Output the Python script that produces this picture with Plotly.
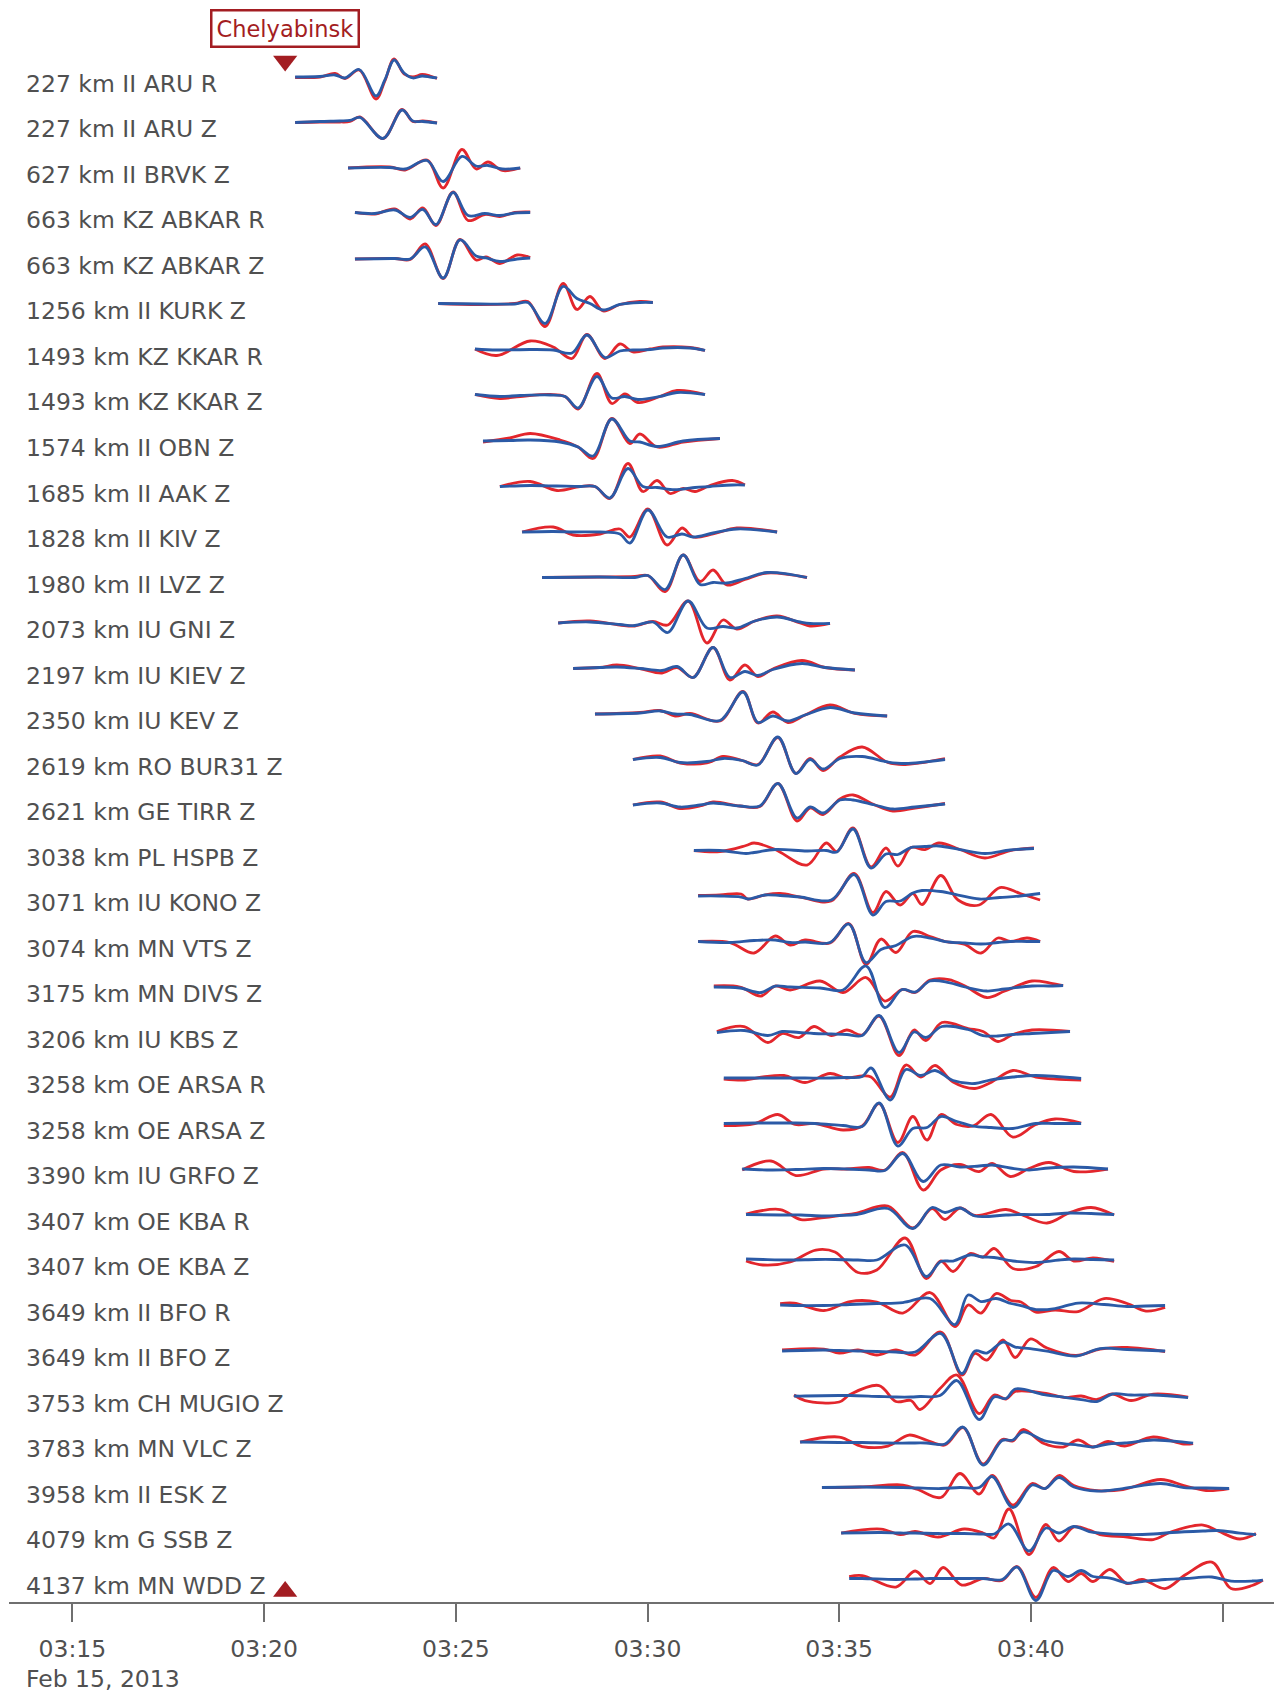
import plotly.graph_objects as go

# ---------------- station metadata (one entry per trace row) ----------------
DIST_KM = [227, 227, 627, 663, 663, 1256, 1493, 1493, 1574, 1685, 1828, 1980,
           2073, 2197, 2350, 2619, 2621, 3038, 3071, 3074, 3175, 3206, 3258,
           3258, 3390, 3407, 3407, 3649, 3649, 3753, 3783, 3958, 4079, 4137]
NETWORK = ["II", "II", "II", "KZ", "KZ", "II", "KZ", "KZ", "II", "II", "II", "II",
           "IU", "IU", "IU", "RO", "GE", "PL", "IU", "MN", "MN", "IU", "OE",
           "OE", "IU", "OE", "OE", "II", "II", "CH", "MN", "II", "G", "MN"]
STATION = ["ARU", "ARU", "BRVK", "ABKAR", "ABKAR", "KURK", "KKAR", "KKAR", "OBN",
           "AAK", "KIV", "LVZ", "GNI", "KIEV", "KEV", "BUR31", "TIRR", "HSPB",
           "KONO", "VTS", "DIVS", "KBS", "ARSA", "ARSA", "GRFO", "KBA", "KBA",
           "BFO", "BFO", "MUGIO", "VLC", "ESK", "SSB", "WDD"]
CHANNEL = ["R", "Z", "Z", "R", "Z", "Z", "R", "Z", "Z", "Z", "Z", "Z", "Z", "Z",
           "Z", "Z", "Z", "Z", "Z", "Z", "Z", "Z", "R", "Z", "Z", "R", "Z", "R",
           "Z", "Z", "Z", "Z", "Z", "Z"]

# event origin time, minutes after 03:00 UTC
EVENT_MIN = 20.55
EVENT_NAME = "Chelyabinsk"
DATE_TEXT = "Feb 15, 2013"

TICK_MIN = [15, 20, 25, 30, 35, 40, 45]
TICK_TEXT = ["03:15", "03:20", "03:25", "03:30", "03:35", "03:40", ""]

# ---------------- waveform knots: time (min after 03:00) ----------------
KNOT_MIN = [
    [20.81, 21.46, 21.85, 22.11, 22.48, 22.92, 23.15, 23.39, 23.65, 23.88, 24.12, 24.33, 24.51],
    [20.81, 21.46, 21.98, 22.24, 22.50, 23.10, 23.60, 23.88, 24.14, 24.51],
    [22.19, 23.28, 23.68, 24.25, 24.67, 25.16, 25.53, 25.84, 26.21, 26.68],
    [22.37, 22.89, 23.41, 23.81, 24.14, 24.48, 24.93, 25.32, 25.76, 26.15, 26.54, 26.94],
    [22.37, 23.41, 23.81, 24.20, 24.67, 25.11, 25.53, 25.79, 26.15, 26.60, 26.94],
    [24.54, 25.63, 26.54, 26.88, 27.33, 27.80, 28.16, 28.50, 28.84, 29.28, 29.80, 30.14],
    [25.50, 26.07, 26.94, 27.54, 28.03, 28.42, 28.89, 29.28, 29.62, 30.07, 30.40, 31.11, 31.50],
    [25.50, 26.15, 26.68, 27.46, 27.85, 28.19, 28.68, 29.07, 29.41, 29.75, 30.33, 30.77, 31.50],
    [25.71, 26.41, 26.94, 27.72, 28.19, 28.58, 29.07, 29.54, 29.80, 30.25, 30.93, 31.89],
    [26.15, 26.94, 27.64, 28.24, 28.63, 29.02, 29.49, 29.88, 30.25, 30.59, 30.93, 31.24, 31.63, 32.21, 32.54],
    [26.73, 27.54, 28.06, 28.76, 29.28, 29.54, 30.01, 30.51, 30.90, 31.19, 31.71, 32.33, 33.38],
    [27.25, 28.76, 29.67, 30.01, 30.46, 30.93, 31.37, 31.71, 32.07, 32.54, 33.12, 34.16],
    [27.67, 28.50, 29.28, 29.67, 30.14, 30.53, 31.06, 31.55, 31.97, 32.33, 32.80, 33.38, 33.98, 34.24, 34.76],
    [28.06, 28.76, 29.20, 29.80, 30.38, 30.77, 31.19, 31.71, 32.15, 32.54, 32.88, 33.27, 34.03, 34.63, 35.41],
    [28.63, 29.80, 30.33, 30.72, 31.11, 31.89, 32.49, 32.88, 33.27, 33.66, 34.11, 34.76, 35.41, 36.25],
    [29.62, 30.33, 30.85, 31.55, 31.97, 32.47, 32.88, 33.40, 33.87, 34.24, 34.58, 35.02, 35.60, 36.27, 36.72, 37.76],
    [29.62, 30.33, 30.85, 31.37, 31.71, 32.41, 32.93, 33.40, 33.90, 34.24, 34.58, 35.02, 35.36, 35.93, 36.40, 36.98, 37.76],
    [31.21, 31.89, 32.57, 32.78, 33.33, 34.16, 34.66, 34.94, 35.36, 35.83, 36.22, 36.53, 36.87, 37.24, 37.60, 38.15, 38.80, 39.46, 40.08],
    [31.32, 31.89, 32.44, 32.62, 33.06, 33.46, 33.98, 34.79, 35.39, 35.88, 36.22, 36.59, 36.92, 37.16, 37.65, 38.10, 38.65, 39.19, 39.72, 40.24],
    [31.32, 32.15, 32.78, 33.33, 33.72, 34.11, 34.76, 35.25, 35.70, 36.09, 36.48, 36.92, 37.37, 37.76, 38.28, 38.70, 39.14, 39.46, 39.90, 40.24],
    [31.73, 32.41, 32.96, 33.33, 33.72, 34.50, 35.10, 35.70, 36.19, 36.64, 36.98, 37.37, 37.86, 38.28, 38.85, 39.32, 40.03, 40.50, 40.84],
    [31.81, 32.52, 33.14, 33.51, 33.95, 34.34, 34.79, 35.20, 35.60, 36.04, 36.56, 36.95, 37.26, 37.68, 38.36, 38.75, 39.14, 39.53, 40.03, 41.02],
    [31.99, 32.54, 33.01, 33.56, 34.11, 34.76, 35.18, 35.60, 35.83, 36.33, 36.74, 37.13, 37.50, 37.97, 38.54, 38.93, 39.53, 40.13, 41.31],
    [31.99, 32.80, 33.40, 33.85, 34.37, 35.10, 35.60, 36.04, 36.53, 36.92, 37.29, 37.65, 38.07, 38.49, 38.96, 39.53, 40.13, 40.63, 41.31],
    [32.47, 33.22, 33.87, 34.60, 35.20, 35.78, 36.19, 36.66, 37.19, 37.65, 38.15, 38.65, 38.99, 39.46, 39.95, 40.47, 41.12, 42.01],
    [32.57, 33.46, 34.00, 34.60, 35.00, 35.46, 36.27, 36.92, 37.42, 37.76, 38.15, 38.54, 39.35, 39.74, 40.42, 41.02, 41.57, 42.17],
    [32.57, 33.01, 33.72, 34.39, 34.89, 35.49, 35.98, 36.72, 37.27, 37.65, 37.97, 38.41, 38.75, 39.04, 39.53, 40.13, 40.73, 41.12, 41.62, 42.17],
    [33.46, 33.82, 34.60, 35.28, 35.98, 36.66, 37.37, 38.02, 38.36, 38.70, 39.09, 39.48, 39.74, 40.13, 40.63, 41.23, 41.91, 42.51, 43.00, 43.50],
    [33.51, 34.60, 35.00, 35.49, 35.98, 36.48, 36.98, 37.65, 38.20, 38.54, 38.85, 39.27, 39.59, 39.98, 40.42, 41.18, 41.80, 42.51, 43.50],
    [33.82, 34.11, 35.00, 35.28, 36.04, 36.48, 36.87, 37.11, 37.63, 38.07, 38.65, 39.04, 39.35, 39.59, 40.34, 40.92, 41.31, 41.72, 42.12, 42.61, 43.19, 44.10],
    [33.98, 35.00, 35.60, 36.27, 36.82, 37.27, 37.76, 38.23, 38.75, 39.25, 39.53, 39.79, 40.34, 40.84, 41.23, 41.62, 42.01, 42.45, 43.19, 43.99, 44.23],
    [34.55, 35.54, 36.66, 37.05, 37.65, 38.15, 38.65, 38.99, 39.53, 40.03, 40.37, 40.73, 41.12, 41.72, 42.40, 43.39, 43.99, 44.57, 45.17],
    [35.05, 36.09, 36.59, 36.98, 37.58, 38.26, 38.75, 39.04, 39.43, 39.95, 40.39, 40.73, 41.12, 41.52, 41.80, 42.51, 43.19, 43.68, 44.49, 44.88, 45.45, 45.87],
    [35.26, 35.60, 36.48, 36.98, 37.37, 37.71, 38.20, 38.75, 39.25, 39.64, 40.13, 40.58, 40.97, 41.31, 41.62, 42.06, 42.51, 42.90, 43.50, 44.04, 44.72, 45.22, 45.77, 46.05],
]

# synthetic waveform amplitude (relative units), blue
SYN_AMP = [
    [0, 0.5, 2, -1, 7.5, -19, -3, 17, 4, -1, 1, 0, -1],
    [0, 1, 1.5, 2, 5, -16, 12.5, 1.5, 1, -0.5],
    [0, 0.5, -1, 7.5, -13.5, 11.5, 2, 2.5, -1, 0],
    [1, 0, 3.5, -4, 4, -11, 21, -2, 0, -2, 0.5, 1],
    [0, 0.5, 0, 12, -19, 19, 3, 1, -2.5, 0, 1],
    [1, 0.5, 0.5, 2, -19, 18, 6, 1, -5.5, 0, 2, 2],
    [1, 0, 0.5, 0, -3, 15, -7.5, -1, 0, 0.5, 2, 2, -0.5],
    [1, -1, 0, 0.5, -1, -12.5, 19, -2.5, -1, -4, -1, 3, 1],
    [0, 0.5, 1, -1, -6, -15, 22, 0, -1, -5.5, 0, 2.5],
    [0, 1, 0.5, 0, 0, -11.5, 18, 0, -1, -3, -2.5, -1, 0, 1.5, 1.5],
    [0, 0.5, 0, 0, -2, -11, 22, -5, -2, -5, -1, 3, 0],
    [0, 0.5, 0, 2, -12, 22.5, -7, -5, -5.5, -1, 5, 0],
    [0, 1, -1.5, -2.5, 1, -9.5, 22, -5, -3.5, -5, 2, 6, 1, -0.5, -0.5],
    [0, 1, 1.5, 0, -2, 2, -9, 21, -9, -3, -7, -1, 5, 1, -1.5],
    [0, 1, 3, 0, -0.5, -6.5, 22, -8.5, -2, -7, -1, 6.5, 1, -2],
    [0, 2, -3, -2, 1, -1, -5.5, 22.5, -14, 0, -9.5, 1, 3, -2.5, -4, 0],
    [0, 2, -2, 0, 2, -1, -1, 21.5, -13, -2, -8, 5, 5, 0, -4, -2, 1],
    [0, 0, -3, -2, 1, -0.5, 0, -1.5, 21.5, -17.5, -3.5, -4, 3, 4, 4.5, 1, -3, 0.5, 2],
    [0, 0, -1, -3, 1, 0.5, -1, -4, 21.5, -19, -5.5, -5, 3, 5.5, 4.5, 1, -3, -1.5, 0, 2.5],
    [0, -1, 1, 1.5, -1, -0.5, -1, 17.5, -21, -8, -4, 5, 3.5, 0, -1.5, -2.5, -1, 0, 0, 0],
    [0, -1, -5.5, 1, 0, -1, -3, 21, -20.5, -2.5, -5, 6, 4.5, 0, -4, -2, 1, 1, 1.5],
    [0, 2, -3, 1, 0, -1, -1.5, -2, -3, 17, -20, 0.5, -5, 6, 3, -3, -3.5, -2, -1, 1],
    [0, 0, 0, 0, 0, 0, 0.5, 1.5, 10, -22, 8.5, 2.5, 7.5, -2.5, -5.5, -2, 1, 2.5, -0.5],
    [0, 0.5, 0.5, 0.5, 0, -2, -3, 20.5, -22.5, -5, -4, 7, 2, -2.5, -4, -5, 0, 0, 0],
    [0, -1, -0.5, 0.5, 0, -1, -1.5, 15.5, -12.5, 4, 2, 3, 4, 1, -1, 1, 2, 0],
    [0, -0.5, -0.5, -1.5, -1, 0, 6, -14, 7, 2, 6.5, -1.5, -0.5, 0, 0, 1.5, 1, 0],
    [1, 0.5, 0, 0.5, 0.5, 0, 0, 15, -16.5, -1.5, -1, 5, 3, 2.5, -1, -2.5, 0, 1, 0.5, 0],
    [0.5, 0, 0, 1, 2, 3, 7, -19, 10.5, 4, 7, 2, 0, -4, -3, 2.5, 1, -1, -0.5, 0],
    [0, 1, 0.5, 0, -0.5, -1, -1, 17.5, -22.5, 0, -2, 9, 4, 2.5, 0, -5, 2.5, 1.5, 0],
    [0.5, 0.5, 1, 1, 0, -0.5, -0.5, 0, 1, 16, -23, -0.5, -2, 7.5, 2, -1, -3, -5, 2.5, 1.5, 1.5, -1],
    [0, -0.5, -0.5, -1, -1, -1, -2, 15, -23, 1.5, 2, 10, 1.5, -1.5, -3, -5, -2, -1, 2, 0, -1],
    [0, 0.5, 0, -0.5, -1, 0, 0, 11, -20, 2.5, -1, 10, 0.5, -3.5, -1, 4, 0, -0.5, -1],
    [0, 0.5, 0, 0, -0.5, -0.5, -1, -1, 9, -18, 5, 0, 6.5, 1.5, 0, -1.5, -1, 0.5, 2, 2.5, 0, -1.5],
    [0, 0, -1, -0.5, 0, 0, 0, 0, -1, 11.5, -22, 8, 2, 8, 2, 0.5, -4.5, -3, -1, 0, 1.5, -2.5, -2.5, -1.5],
]

# observed waveform amplitude (relative units), red
OBS_AMP = [
    [-0.5, 0, 3.5, -1.5, 7, -22, -4, 18, 3, 0, 2.5, 1, -1.5],
    [0, 0.5, 0.5, 1, 5.5, -16, 13, 1, 1.5, -0.5],
    [0, 1, -2, 8, -20, 18.5, -1, 6, -2.5, 0],
    [1, -0.5, 4.5, -5.5, 5.5, -12, 21.5, -7, -1, -3, 1, 1.5],
    [0, 0.5, -0.5, 15, -19.5, 19.5, -1, 2, -4.5, 4, 1.5],
    [1, 0, 1, 3, -22, 21, -5, 8, -6.5, 0, 3, 2],
    [1, -5.5, 9, 3, -8.5, 15.5, -8.5, 6, -2, 1, 3, 2.5, -0.5],
    [1, -3, -1, 1, -1, -13.5, 22, -8, 1.5, -7, -1, 5, 1],
    [-1, 3, 7.5, 1, -6, -17.5, 22.5, -2.5, 7, -6, -1, 2.5],
    [0, 5, -4, 0, 0, -12, 23, -5, 6, -7, -2, -5, 1, 6, 1.5],
    [0, 5, -3, -2, 3, -5, 23, -13, 4, -5, -2, 4, 0],
    [0, 0.5, 1, 2, -14, 22.5, -4, 7.5, -7.5, -2, 4.5, 0],
    [0, 2, -2, -3, 1.5, -2, 22, -20, 3, -6, 2, 7, 0, -3, -0.5],
    [0, 1, 3.5, 0, -4.5, 1, -9, 21, -11.5, 3.5, -8, -0.5, 8, 1, -1.5],
    [0, 1.5, 3.5, -2, 0.5, -7, 22.5, -9, 2, -8.5, -1, 9, 0.5, -2],
    [0, 3.5, -3.5, -3.5, 3, -1, -5, 22, -14, 1, -11, 2.5, 12.5, -3, -5, 1],
    [0, 3, -3.5, -1, 3, -1, -1.5, 21.5, -16, -3, -9.5, 6, 10, 0, -6, -3, 1.5],
    [0, -1, 5, 7.5, 1, -14.5, 7.5, -1, 22.5, -16.5, 2.5, -15.5, 3, 1, 7.5, 1, -7.5, 0, 2.5],
    [0.5, 1, 2, -3, 1, 2.5, -1, -5, 22.5, -16.5, 4.5, -9, 2.5, -8.5, 20.5, -4, -9, 8.5, 2.5, -4],
    [0, -1, -11.5, 5.5, -3.5, 1.5, -1.5, 18, -23, 2.5, -11, 10, 5, 0, -3, -11.5, 3.5, 0, 3.5, 0],
    [1, 0, -9, 1, -3, 6, -5.5, 9.5, -14, -2.5, -5.5, 7, 7.5, 1, -10.5, -4, 6, 4, 1.5],
    [1, 6, -10, -1, -5, 6, -3, 2.5, -2.5, 16.5, -23, 2.5, -8, 10, 4, 1, -9, -2, 2.5, 1],
    [-1, -2, 1, 2.5, -4.5, 4.5, 0, 2, 1, -19, 13, 1, 12.5, -4, -10.5, -5, 7.5, 1, -2],
    [-2, 0, 9, -1, 0, -6.5, -2.5, 20, -19, 7, -16.5, 9, -1, -2.5, 9, -13.5, -1, 4.5, 0.5],
    [-1, 8, -6.5, 0, 0, 1.5, -1, 16.5, -21, -1, 4.5, -2.5, 5.5, -7.5, 0.5, 6.5, -2.5, 0],
    [0.5, 5, -5, -3, -1, 1.5, 8.5, -13.5, 6, -5, 6.5, -1, 5, 0, -8.5, 2, 7, -0.5],
    [-1, -5, -2, 10, 8, -12.5, -10, 22, -18.5, -1, -11.5, 6.5, 3, 11.5, -8.5, -6.5, 8.5, -1, 2, -1.5],
    [2, 2.5, -5, 4, 3.5, -7.5, 13, -21, 0.5, -7.5, 12, 5, 3.5, -6.5, -4.5, -6, 7, 2, -5.5, -2],
    [1, 2, -2, 1, -4, 1, -4, 19, -24, -2.5, -9, 11, -6.5, 12, 3, -4.5, 2, 3.5, -0.5],
    [1.5, -4, -5.5, 2, 11, -5, -4, -13, 8, 21.5, -17, 1.5, -2.5, 5, 3.5, -1, 0.5, -3, 2.5, -4, 2.5, -0.5],
    [0, 5, -4.5, -4, 7, 2, -3, 14.5, -22, 2.5, 1, 12.5, -1.5, -5, 2, -5, 0.5, -4, 5, -2, -1.5],
    [0, 0.5, 2.5, -2, -10, 14, -6.5, 12, -17.5, 4, -1, 12, 2, -3, -2, 8, 2, -3, -1],
    [0, 4, -1.5, 1.5, -4, 4, 0, -5, 24, -21.5, 8.5, -8, 6, 3, -1.5, -4, -6.5, 1.5, 8, 2, -6, -0.5],
    [2, 3, -8.5, 7.5, -5, 11, -6.5, 0, -2, 12, -19, 11, -3, 5, -3, 9, -5, -1, -10, 4, 16.5, -10, -7, -1.5],
]

# ---------------- styling ----------------
W, H = 1274, 1695
FONT = "DejaVu Sans"
TEXT_GREY = "#505050"
AXIS_GREY = "#6f6f6f"
RED = "#e3262c"
BLUE = "#2b5aa6"
MARK_RED = "#a31d22"
AMP_GAIN = 1 / 45.5          # trace offset units per amplitude unit
Y_RANGE = [-33.516, 1.692]
X_RANGE = [13.347, 46.34]
LABEL_SIZE = 23.5

fig = go.Figure()

n_rows = len(STATION)
for i in range(n_rows):
    t = KNOT_MIN[i]
    y_obs = [-i + a * AMP_GAIN for a in OBS_AMP[i]]
    y_syn = [-i + a * AMP_GAIN for a in SYN_AMP[i]]
    fig.add_trace(go.Scatter(
        x=t, y=y_obs, mode="lines",
        line=dict(color=RED, width=2.8, shape="spline", smoothing=1.0),
        hoverinfo="skip", showlegend=False))
    fig.add_trace(go.Scatter(
        x=t, y=y_syn, mode="lines",
        line=dict(color=BLUE, width=2.8, shape="spline", smoothing=1.0),
        hoverinfo="skip", showlegend=False))

# event markers: top (pointing down) and on the time axis (pointing up)
fig.add_trace(go.Scatter(
    x=[EVENT_MIN, EVENT_MIN], y=[0.962, 0.0065], yaxis="y2", mode="markers",
    marker=dict(symbol=["triangle-down", "triangle-up"], size=21, color=MARK_RED,
                line=dict(width=0)),
    cliponaxis=False, hoverinfo="skip", showlegend=False))

annotations = []
for i in range(n_rows):
    annotations.append(dict(
        text=f"{DIST_KM[i]} km {NETWORK[i]} {STATION[i]} {CHANNEL[i]}",
        xref="paper", x=0, xshift=15, xanchor="left",
        yref="y", y=-i, yshift=-7, yanchor="middle",
        showarrow=False, font=dict(family=FONT, size=LABEL_SIZE, color=TEXT_GREY)))

annotations.append(dict(
    text=DATE_TEXT, xref="paper", x=0, xshift=15, xanchor="left",
    yref="paper", y=0, yshift=-77, yanchor="middle",
    showarrow=False, font=dict(family=FONT, size=LABEL_SIZE, color=TEXT_GREY)))

annotations.append(dict(
    text=EVENT_NAME, xref="x", x=EVENT_MIN, xanchor="center",
    yref="paper", y=1, yshift=-28, yanchor="middle",
    showarrow=False, bgcolor="white", bordercolor=MARK_RED, borderwidth=2.5,
    borderpad=4, font=dict(family=FONT, size=22.5, color=MARK_RED)))

fig.update_layout(
    width=W, height=H,
    margin=dict(l=9, r=0, t=0, b=93),
    paper_bgcolor="white", plot_bgcolor="white",
    showlegend=False,
    xaxis=dict(
        range=X_RANGE, showgrid=False, zeroline=False,
        showline=True, linecolor=AXIS_GREY, linewidth=2,
        ticks="outside", ticklen=18, tickwidth=1.5, tickcolor=AXIS_GREY,
        tickvals=TICK_MIN, ticktext=TICK_TEXT, ticklabelstandoff=7,
        tickfont=dict(family=FONT, size=LABEL_SIZE, color=TEXT_GREY),
        fixedrange=True),
    yaxis=dict(range=Y_RANGE, visible=False, fixedrange=True),
    yaxis2=dict(range=[0, 1], overlaying="y", visible=False, fixedrange=True),
    annotations=annotations,
)

fig.write_html("out.html")
